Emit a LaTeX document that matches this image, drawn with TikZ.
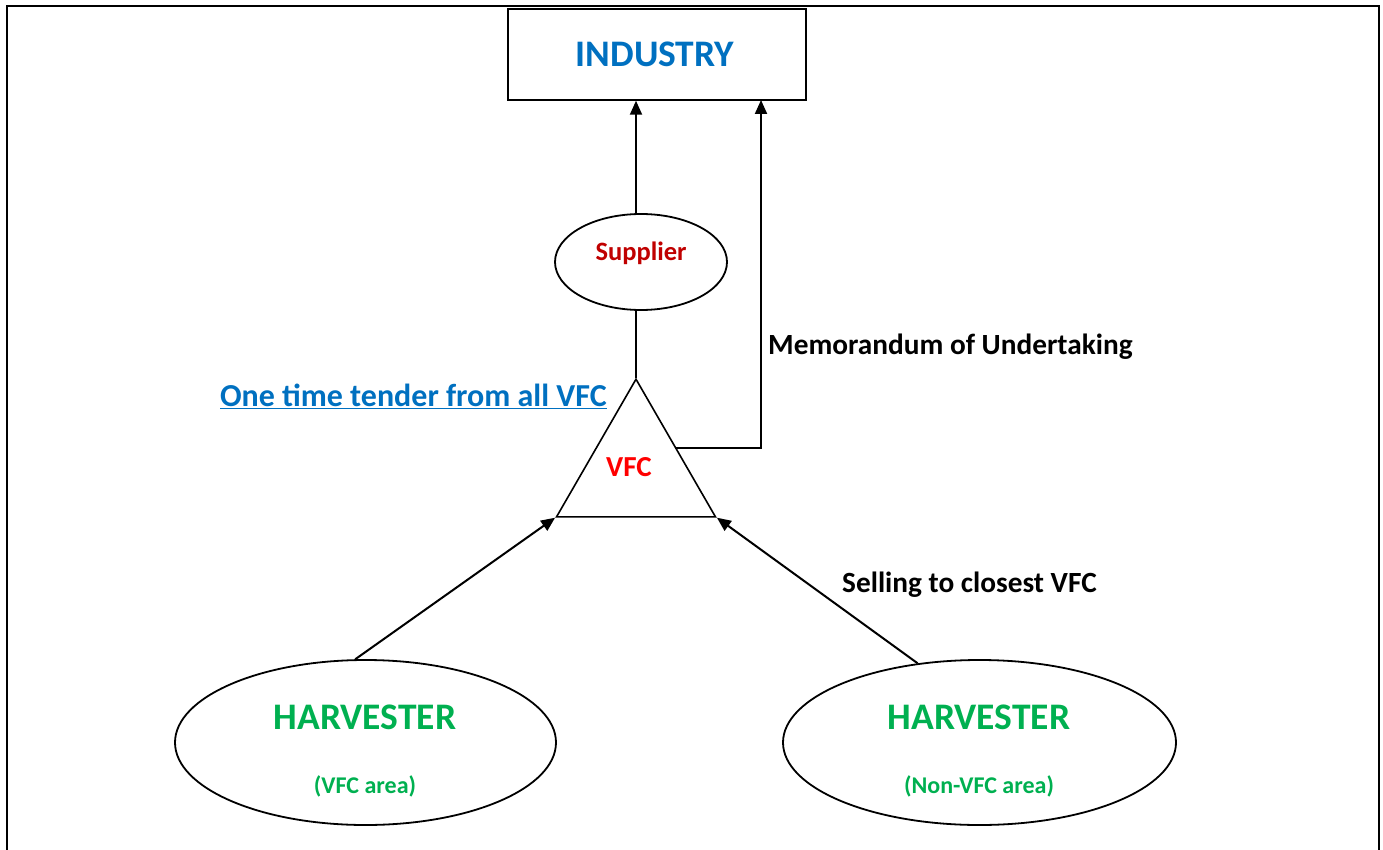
\documentclass[tikz,border=0pt]{standalone}
\usepackage{fontspec}
\setmainfont{Carlito}
\usetikzlibrary{arrows.meta,shapes.geometric,calc}
\definecolor{cblue}{RGB}{0,112,192}
\definecolor{cdred}{RGB}{192,0,0}
\definecolor{cred}{RGB}{255,0,0}
\definecolor{cgreen}{RGB}{0,176,80}
\tikzset{
  line/.style={line width=2pt,black},
  arr/.style={line/.try,-{Triangle[length=14pt,width=12pt]}},
  lbl/.style={font=\bfseries\fontsize{29.3}{34}\selectfont,inner sep=0pt},
  ell/.style={ellipse,draw,line width=1.8pt,inner sep=0pt},
}
\begin{document}
\begin{tikzpicture}[x=1pt,y=-1pt]
\useasboundingbox (0,0) rectangle (1383,850);
\draw[line width=2.6pt] (7,852) -- (7,6) -- (1379,6) -- (1379,852);
% industry
\node[draw,line width=1.5pt,minimum width=298pt,minimum height=91pt,inner sep=0pt] (ind) at (657,54.5) {};
\node[font=\bfseries\fontsize{37.5}{44}\selectfont,text=cblue,inner sep=0pt] (indt) at (655,54) {INDUSTRY};
% supplier
\node[ell,minimum width=172pt,minimum height=96pt] (sup) at (641,262) {};
\node[font=\bfseries\fontsize{26.5}{31}\selectfont,text=cdred,inner sep=0pt] (supt) at (641,253) {Supplier};
% triangle
\node[regular polygon,regular polygon sides=3,draw,line width=1.6pt,minimum size=183.6pt,inner sep=0pt] (tri) at (636,471) {};
\node[font=\bfseries\fontsize{29}{34}\selectfont,text=cred,inner sep=0pt] (vfc) at (629,467) {VFC};
% harvesters
\node[ell,minimum width=381pt,minimum height=165pt] (hl) at (365.5,742.5) {};
\node[ell,minimum width=393pt,minimum height=165pt] (hr) at (979.5,742.5) {};
\node[font=\bfseries\fontsize{37.5}{44}\selectfont,text=cgreen,inner sep=0pt] (hlt) at (365,717) {HARVESTER};
\node[font=\bfseries\fontsize{24}{28}\selectfont,text=cgreen,inner sep=0pt] (hls) at (365,786) {(VFC area)};
\node[font=\bfseries\fontsize{37.5}{44}\selectfont,text=cgreen,inner sep=0pt] (hrt) at (979,717) {HARVESTER};
\node[font=\bfseries\fontsize{24}{28}\selectfont,text=cgreen,inner sep=0pt] (hrs) at (979,786) {(Non-VFC area)};
% labels
\node[lbl,anchor=west] (memo) at (768,347) {Memorandum of Undertaking};
\node[lbl,anchor=east,text=cblue,font=\bfseries\fontsize{32}{38}\selectfont] (tender) at (607,396) {\underline{One time tender from all VFC}};
\node[lbl,anchor=west] (sell) at (842,585) {Selling to closest VFC};
% connectors
\draw[arr] (sup.north -| tri.corner 1) -- (tri.corner 1 |- ind.south);
\draw[line] (sup.south -| tri.corner 1) -- (tri.corner 1);
\coordinate (mside) at ($(tri.corner 1)!0.5!(tri.corner 3)$);
\coordinate (mtop) at (761,100);
\draw[arr] (mside) -| (mtop);
\draw[arr] (hl.97) -- (tri.corner 2);
\draw[arr] (hr.128) -- (tri.corner 3);
\end{tikzpicture}
\end{document}
